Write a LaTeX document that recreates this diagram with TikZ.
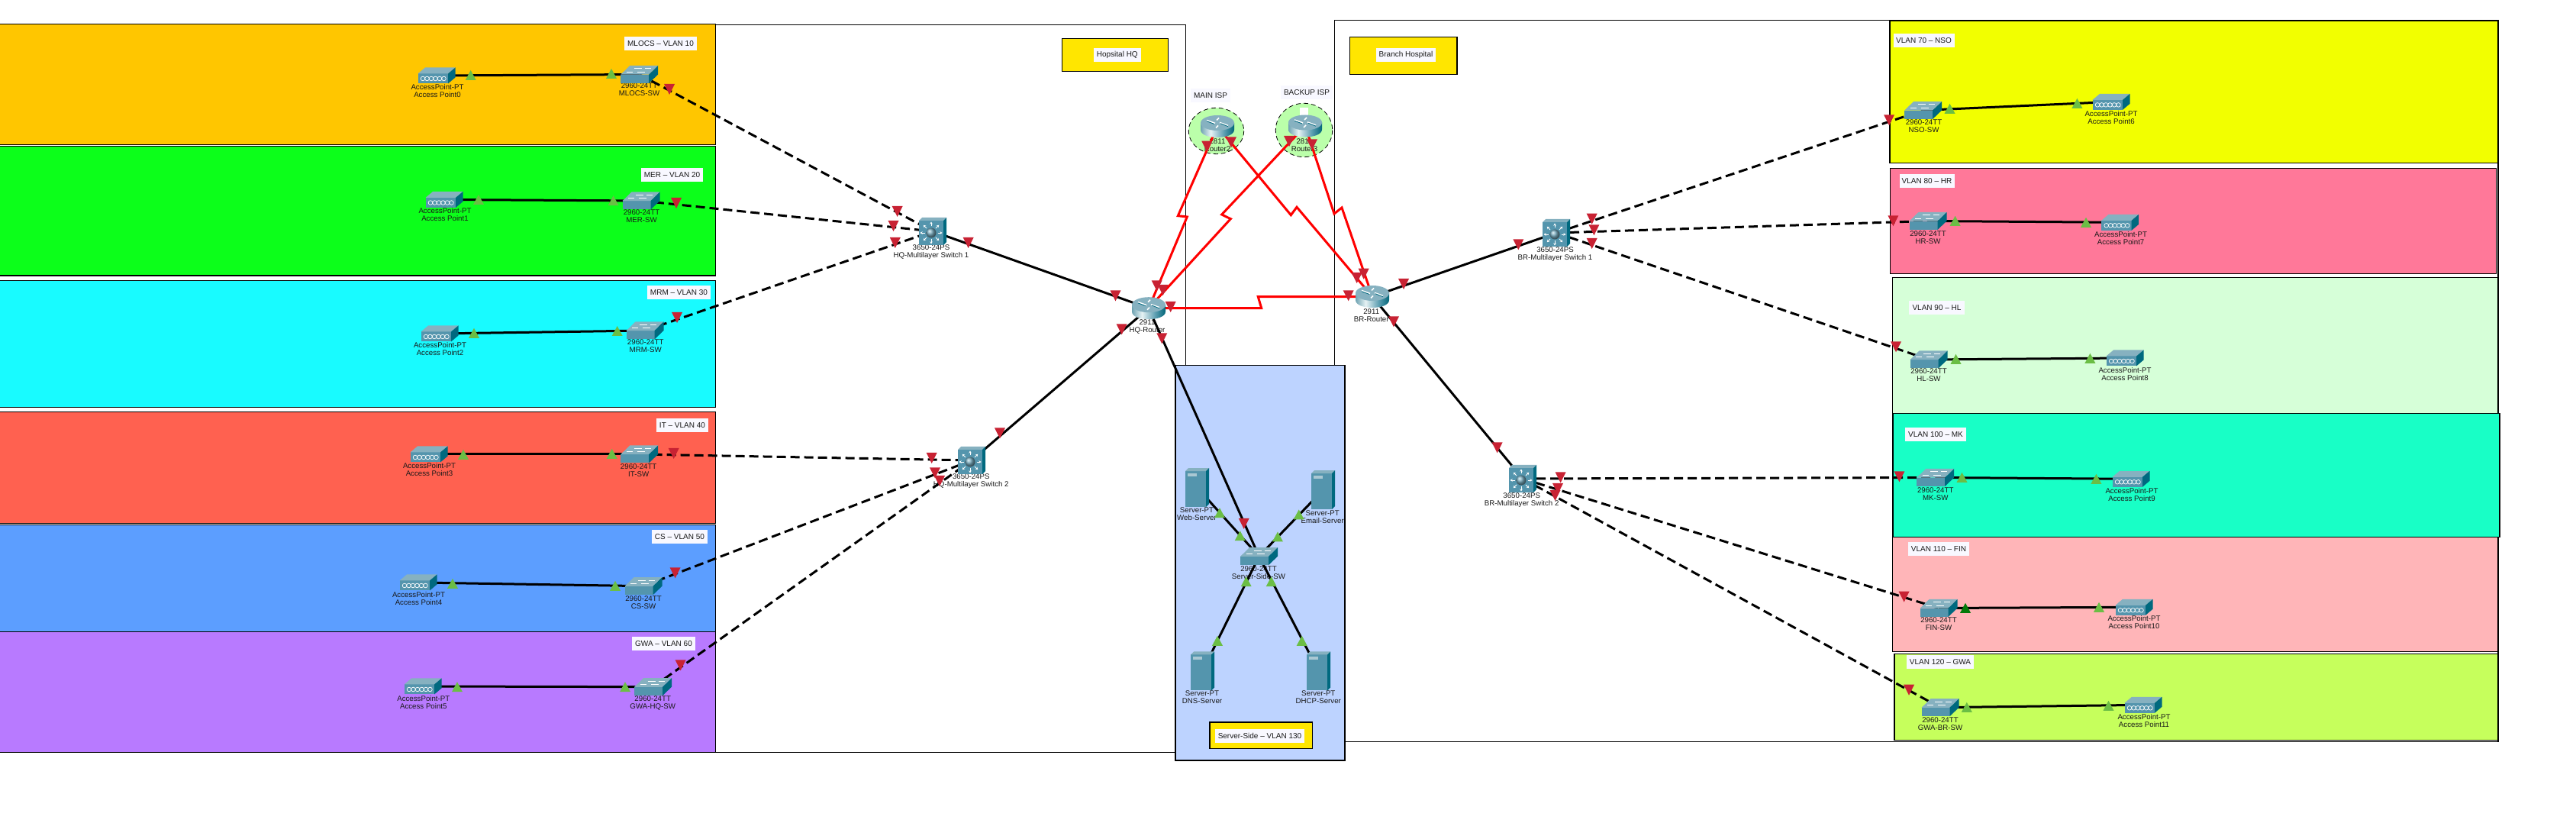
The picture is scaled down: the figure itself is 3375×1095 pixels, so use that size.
\documentclass[tikz,border=0pt]{standalone}
\usepackage{fontspec}
\usetikzlibrary{arrows.meta}
\setmainfont{Liberation Sans}
\definecolor{cOrange}{HTML}{FFC600}
\definecolor{cGreen}{HTML}{0CFF1A}
\definecolor{cCyan}{HTML}{18FBFF}
\definecolor{cRed}{HTML}{FF6150}
\definecolor{cBlue}{HTML}{5C9EFF}
\definecolor{cPurple}{HTML}{B87AFF}
\definecolor{cYellow}{HTML}{F2FF00}
\definecolor{cPink}{HTML}{FF7899}
\definecolor{cMint}{HTML}{D6FFD8}
\definecolor{cTeal}{HTML}{18FFC6}
\definecolor{cRose}{HTML}{FFB5B8}
\definecolor{cLime}{HTML}{C6FF5C}
\definecolor{cSky}{HTML}{BDD3FF}
\definecolor{cTitle}{HTML}{FFE600}
\definecolor{cTag}{HTML}{F8F8FF}
\definecolor{cIsp}{HTML}{BBFFAA}
\definecolor{icoFront}{HTML}{5495AD}
\definecolor{icoTop}{HTML}{86B1C0}
\definecolor{icoSide}{HTML}{00697F}
\definecolor{triR}{HTML}{C82233}
\definecolor{triG}{HTML}{6BBE45}
\definecolor{triD}{HTML}{047A0A}
\definecolor{rtA}{HTML}{6FA3B2}
\definecolor{rtB}{HTML}{E6F2F4}
\definecolor{rtC}{HTML}{5B9DB0}
\definecolor{rtD}{HTML}{006578}
\pgfdeclarehorizontalshading{rtrBody}{100bp}{color(0bp)=(rtA);color(25bp)=(rtA);color(40bp)=(rtB);color(60bp)=(rtC);color(75bp)=(rtD);color(100bp)=(rtD)}
\tikzset{
  zone/.style={draw=black,line width=0.55pt},
  tag/.style={fill=cTag,inner sep=0pt,minimum height=9pt,font=\fontsize{5}{6}\selectfont,text=black!90},
  devlbl/.style={inner sep=0pt,align=center,font=\fontsize{4.85}{5}\selectfont,text=black!90},
  devspot/.style={inner sep=0pt,minimum size=10pt},
  link/.style={draw=black,line width=1.5pt},
  trunk/.style={draw=black,line width=1.5pt,dash pattern=on 6pt off 3pt},
  serial/.style={draw=red,line width=1.5pt,line join=miter},
  swIcon/.pic={
    \fill[icoFront] (-24.5,0.2) rectangle (12.5,11.5);
    \fill[icoTop] (-24.5,0.2) -- (12.5,0.2) -- (24.5,-11.5) -- (-12.5,-11.5) -- cycle;
    \fill[icoSide] (12.5,0.2) -- (24.5,-11.5) -- (24.5,0) -- (12.5,11.5) -- cycle;
    \draw[white,line width=0.5pt] (-7,-7.5) -- (3,-7.5) (7,-7.5) -- (15,-7.5) (-17,-3) -- (-9,-3) (-3,-3) -- (7,-3);
  },
  apIcon/.pic={
    \fill[icoFront] (-24.5,-2.5) rectangle (15,10.5);
    \fill[icoTop] (-24.5,-2.5) -- (15,-2.5) -- (24.5,-10.5) -- (-15,-10.5) -- cycle;
    \fill[icoSide] (15,-2.5) -- (24.5,-10.5) -- (24.5,2.5) -- (15,10.5) -- cycle;
    \foreach \k in {-18,-12.5,-7,-1.5,4,9.5}
      \draw[white,line width=0.35pt] (\k,4) circle (2.8);
  },
  svIcon/.pic={
    \fill[icoFront] (-15.5,-21.5) rectangle (11.5,25.5);
    \fill[icoTop] (-15.5,-21.5) -- (11.5,-21.5) -- (15.5,-25.5) -- (-11.5,-25.5) -- cycle;
    \fill[icoSide] (11.5,-21.5) -- (15.5,-25.5) -- (15.5,21.5) -- (11.5,25.5) -- cycle;
    \fill[icoTop!70!white] (-13,-19) rectangle (-1,-15);
  },
  mlIcon/.pic={
    \fill[icoFront] (-18,-14) rectangle (14,18);
    \fill[icoTop] (-18,-14) -- (14,-14) -- (18,-18) -- (-14,-18) -- cycle;
    \fill[icoSide] (14,-14) -- (18,-18) -- (18,14) -- (14,18) -- cycle;
    \begin{scope}[shift={(-2,2)}]
      \foreach \a in {0,45,...,315}
        \draw[white,line width=0.4pt,-{Stealth[length=1.6pt,width=1.8pt]}] (\a:8.5) -- (\a:14.5);
      \shade[ball color=icoFront!80!white] (0,0) circle (6.5);
    \end{scope}
  },
  rtIcon/.pic={
    \shade[shading=rtrBody] (-22,-4.5) -- (-22,4.5) .. controls (-22,17.8) and (22,17.8) .. (22,4.5) -- (22,-4.5) -- cycle;
    \fill[icoTop] (0,-4.5) ellipse [x radius=22,y radius=10];
    \draw[white,line width=0.8pt] (-14,-8) -- (-3,-4) (14,-1) -- (3,-5) (2,-11) -- (-1,-8) (-2,2) -- (1,-1);
    \draw[icoSide,line width=0.4pt] (-14,-6.8) -- (-4,-3) (14,0.2) -- (4,-3.8);
  },
}
\newcommand\tagbox[5]{\node[tag,minimum width=#4*0.5pt] (#1) at (#2,#3) {#5};}
\newcommand\devlab[5]{\node[devlbl] (#1) at (#2,#3) {#4\\#5};}
\newcommand\triDown[3][triR]{\fill[#1,shift={(#2,#3)}] (-7,-7) -- (7,-7) -- (0,7) -- cycle;}
\newcommand\triUp[3][triG]{\fill[#1,shift={(#2,#3)}] (-7,6.5) -- (7,6.5) -- (0,-6.5) -- cycle;}
\begin{document}
\begin{tikzpicture}[x=0.5pt,y=-0.5pt]
\clip (0,0) rectangle (3375,1095);
\fill[white] (0,0) rectangle (3375,1095);
% site frames
\draw[zone,fill=white] (-10,32.3) rectangle (1553.4,985.5);
\draw[zone,fill=white] (1748.6,26.3) rectangle (3273,971.5);
% HQ VLANs
\draw[zone,fill=cOrange] (-10,31.3) rectangle (937.5,189.4);
\draw[zone,fill=cGreen] (-10,191.5) rectangle (937.5,361);
\draw[zone,fill=cCyan] (-10,367.4) rectangle (937.5,533.4);
\draw[zone,fill=cRed] (-10,539.3) rectangle (937.5,685.3);
\draw[zone,fill=cBlue] (-10,687.3) rectangle (937.5,827.3);
\draw[zone,fill=cPurple] (-10,827.3) rectangle (937.5,985.5);
% Branch VLANs
\draw[zone,fill=cYellow] (2476,27.3) rectangle (3273,213.3);
\draw[zone,fill=cPink] (2476.8,220.3) rectangle (3270.5,358.3);
\draw[zone,fill=cMint] (2479.5,363.3) rectangle (3273,541.3);
\draw[zone,fill=cTeal] (2480,541.3) rectangle (3275,703.3);
\draw[zone,fill=cRose] (2479.5,703.3) rectangle (3273,853.3);
\draw[zone,fill=cLime] (2482,856.3) rectangle (3273,969.3);
% server VLAN
\draw[zone,fill=cSky] (1540,478.3) rectangle (1762,996);
% title boxes
\draw[zone,fill=cTitle] (1391.5,50.3) rectangle (1530.4,93.3);
\draw[zone,fill=cTitle] (1768.7,48.3) rectangle (1909,97.7);
\draw[zone,fill=cTitle] (1585,946) rectangle (1719.7,980.3);
% ISP clouds
\draw[fill=cIsp,draw=black,line width=0.4pt,densely dashed] (1593.5,171.5) ellipse [x radius=36.2,y radius=30.2];
\draw[fill=cIsp,draw=black,line width=0.4pt,densely dashed] (1708.5,170.5) ellipse [x radius=37.2,y radius=35.2];
\fill[white] (1703.3,141.3) rectangle (1714,158.7);
% labels
\tagbox{tagMlocs}{865.5}{57}{95}{MLOCS – VLAN 10}
\tagbox{tagMer}{880.5}{229}{81}{MER – VLAN 20}
\tagbox{tagMrm}{889.5}{383}{83}{MRM – VLAN 30}
\tagbox{tagIt}{894}{557}{68}{IT – VLAN 40}
\tagbox{tagCs}{890.5}{703}{73}{CS – VLAN 50}
\tagbox{tagGwa}{869.5}{843}{83}{GWA – VLAN 60}
\tagbox{tagNso}{2520.5}{53}{80}{VLAN 70 – NSO}
\tagbox{tagHr}{2524.5}{237}{72}{VLAN 80 – HR}
\tagbox{tagHl}{2537.5}{403}{73}{VLAN 90 – HL}
\tagbox{tagMk}{2536}{569}{80}{VLAN 100 – MK}
\tagbox{tagFin}{2540}{719}{80}{VLAN 110 – FIN}
\tagbox{tagGwb}{2542}{867}{88}{VLAN 120 – GWA}
\tagbox{tagHq}{1463.8}{72}{62}{Hopsital HQ}
\tagbox{tagBr}{1842}{72}{78}{Branch Hospital}
\tagbox{tagSrv}{1650.5}{963.6}{117}{Server-Side – VLAN 130}
\tagbox{tagMain}{1586}{124.7}{52}{MAIN ISP}
\tagbox{tagBack}{1712}{121}{68}{BACKUP ISP}
% device captions
\devlab{lAp0}{573}{119.3}{AccessPoint-PT}{Access Point0}
\devlab{lAp1}{583}{281.5}{AccessPoint-PT}{Access Point1}
\devlab{lAp2}{576.5}{457.5}{AccessPoint-PT}{Access Point2}
\devlab{lAp3}{562.5}{615.3}{AccessPoint-PT}{Access Point3}
\devlab{lAp4}{548.5}{783.7}{AccessPoint-PT}{Access Point4}
\devlab{lAp5}{554.8}{919.7}{AccessPoint-PT}{Access Point5}
\devlab{lSw1}{837.5}{117.6}{2960-24TT}{MLOCS-SW}
\devlab{lSw2}{840.5}{283.4}{2960-24TT}{MER-SW}
\devlab{lSw3}{845.7}{453.3}{2960-24TT}{MRM-SW}
\devlab{lSw4}{836.7}{615.7}{2960-24TT}{IT-SW}
\devlab{lSw5}{843}{788.7}{2960-24TT}{CS-SW}
\devlab{lSw6}{855.2}{920.7}{2960-24TT}{GWA-HQ-SW}
\devlab{lMl1}{1220}{330.2}{3650-24PS}{HQ-Multilayer Switch 1}
\devlab{lMl2}{1272.3}{630.5}{3650-24PS}{HQ-Multilayer Switch 2}
\devlab{lMl3}{2037.5}{332.7}{3650-24PS}{BR-Multilayer Switch 1}
\devlab{lMl4}{1993.7}{654.7}{3650-24PS}{BR-Multilayer Switch 2}
\devlab{lRt2}{1595}{190.5}{2811}{Router2}
\devlab{lRt3}{1709}{189.7}{2811}{Router3}
\devlab{lHqr}{1503}{428}{2911}{HQ-Router}
\devlab{lBrr}{1796.7}{413}{2911}{BR-Router}
\devlab{lWeb}{1568}{673.6}{Server-PT}{Web-Server}
\devlab{lMail}{1732.7}{676.7}{Server-PT}{Email-Server}
\devlab{lDns}{1575}{913.6}{Server-PT}{DNS-Server}
\devlab{lDhcp}{1727.3}{913.6}{Server-PT}{DHCP-Server}
\devlab{lSrvSw}{1649}{749.8}{2960-24TT}{Server-Side-SW}
\devlab{lSw7}{2520.5}{165.5}{2960-24TT}{NSO-SW}
\devlab{lSw8}{2526}{310.7}{2960-24TT}{HR-SW}
\devlab{lSw9}{2527}{491.3}{2960-24TT}{HL-SW}
\devlab{lSw10}{2535.7}{646.7}{2960-24TT}{MK-SW}
\devlab{lSw11}{2540}{817.3}{2960-24TT}{FIN-SW}
\devlab{lSw12}{2542}{947.7}{2960-24TT}{GWA-BR-SW}
\devlab{lAp6}{2766}{153.7}{AccessPoint-PT}{Access Point6}
\devlab{lAp7}{2778.6}{311.7}{AccessPoint-PT}{Access Point7}
\devlab{lAp8}{2784}{489.7}{AccessPoint-PT}{Access Point8}
\devlab{lAp9}{2793}{647.7}{AccessPoint-PT}{Access Point9}
\devlab{lAp10}{2796}{815.3}{AccessPoint-PT}{Access Point10}
\devlab{lAp11}{2809}{943.7}{AccessPoint-PT}{Access Point11}
% device anchors
\node[devspot] (ap0) at (572,99) {};
\node[devspot] (ap1) at (582,261.5) {};
\node[devspot] (ap2) at (576,437) {};
\node[devspot] (ap3) at (562,595) {};
\node[devspot] (ap4) at (548,763) {};
\node[devspot] (ap5) at (554,899) {};
\node[devspot] (sw1) at (837.7,97.5) {};
\node[devspot] (sw2) at (840,263) {};
\node[devspot] (sw3) at (845,433) {};
\node[devspot] (sw4) at (837.7,595) {};
\node[devspot] (sw5) at (843,767.7) {};
\node[devspot] (sw6) at (855.5,899.7) {};
\node[devspot] (ml1) at (1222,303) {};
\node[devspot] (ml2) at (1273,603) {};
\node[devspot] (ml3) at (2039,305) {};
\node[devspot] (ml4) at (1995,627) {};
\node[devspot] (rt2) at (1595,165.5) {};
\node[devspot] (rt3) at (1710,165) {};
\node[devspot] (hqr) at (1505,403.7) {};
\node[devspot] (brr) at (1798,388.5) {};
\node[devspot] (web) at (1568.5,638.6) {};
\node[devspot] (mail) at (1733.5,641.7) {};
\node[devspot] (dns) at (1575.5,879) {};
\node[devspot] (dhcp) at (1727.5,879) {};
\node[devspot] (srvsw) at (1649.5,728.7) {};
\node[devspot] (sw7) at (2519.6,144.5) {};
\node[devspot] (sw8) at (2526,289.5) {};
\node[devspot] (sw9) at (2527,471) {};
\node[devspot] (sw10) at (2535.7,625.5) {};
\node[devspot] (sw11) at (2540,796.5) {};
\node[devspot] (sw12) at (2542,926.7) {};
\node[devspot] (ap6) at (2766,133.4) {};
\node[devspot] (ap7) at (2777.7,291.3) {};
\node[devspot] (ap8) at (2784,469) {};
\node[devspot] (ap9) at (2792,627.3) {};
\node[devspot] (ap10) at (2796,795.3) {};
\node[devspot] (ap11) at (2808,923.3) {};
% access links
\draw[link] (ap0.center) -- (sw1.center);
\draw[link] (ap1.center) -- (sw2.center);
\draw[link] (ap2.center) -- (sw3.center);
\draw[link] (ap3.center) -- (sw4.center);
\draw[link] (ap4.center) -- (sw5.center);
\draw[link] (ap5.center) -- (sw6.center);
\draw[link] (sw7.center) -- (ap6.center);
\draw[link] (sw8.center) -- (ap7.center);
\draw[link] (sw9.center) -- (ap8.center);
\draw[link] (sw10.center) -- (ap9.center);
\draw[link] (sw11.center) -- (ap10.center);
\draw[link] (sw12.center) -- (ap11.center);
% trunk links
\draw[trunk] (sw1.center) -- (ml1.center);
\draw[trunk] (sw2.center) -- (ml1.center);
\draw[trunk] (sw3.center) -- (ml1.center);
\draw[trunk] (sw4.center) -- (ml2.center);
\draw[trunk] (sw5.center) -- (ml2.center);
\draw[trunk] (sw6.center) -- (ml2.center);
\draw[trunk] (ml3.center) -- (sw7.center);
\draw[trunk] (ml3.center) -- (sw8.center);
\draw[trunk] (ml3.center) -- (sw9.center);
\draw[trunk] (ml4.center) -- (sw10.center);
\draw[trunk] (ml4.center) -- (sw11.center);
\draw[trunk] (ml4.center) -- (sw12.center);
% router and server links
\draw[link] (ml1.center) -- (hqr.center);
\draw[link] (ml2.center) -- (hqr.center);
\draw[link] (hqr.center) -- (srvsw.center);
\draw[link] (brr.center) -- (ml3.center);
\draw[link] (brr.center) -- (ml4.center);
\draw[link] (web.center) -- (srvsw.center);
\draw[link] (mail.center) -- (srvsw.center);
\draw[link] (dns.center) -- (srvsw.center);
\draw[link] (dhcp.center) -- (srvsw.center);
% serial links
\draw[serial] (hqr.center) -- (1555.3,284) -- (1543.3,282.7) -- (rt2.center);
\draw[serial] (hqr.center) -- (1612.3,286.7) -- (1600.7,281) -- (rt3.center);
\draw[serial] (brr.center) -- (1699,271.3) -- (1691.3,281.7) -- (rt2.center);
\draw[serial] (brr.center) -- (1758,272) -- (1748,280) -- (rt3.center);
\draw[serial] (hqr.center) -- (1652.7,403.7) -- (1648.3,388.7) -- (brr.center);
% icons
\pic at (ap0) {apIcon};
\pic at (ap1) {apIcon};
\pic at (ap2) {apIcon};
\pic at (ap3) {apIcon};
\pic at (ap4) {apIcon};
\pic at (ap5) {apIcon};
\pic at (ap6) {apIcon};
\pic at (ap7) {apIcon};
\pic at (ap8) {apIcon};
\pic at (ap9) {apIcon};
\pic at (ap10) {apIcon};
\pic at (ap11) {apIcon};
\pic at (sw1) {swIcon};
\pic at (sw2) {swIcon};
\pic at (sw3) {swIcon};
\pic at (sw4) {swIcon};
\pic at (sw5) {swIcon};
\pic at (sw6) {swIcon};
\pic at (sw7) {swIcon};
\pic at (sw8) {swIcon};
\pic at (sw9) {swIcon};
\pic at (sw10) {swIcon};
\pic at (sw11) {swIcon};
\pic at (sw12) {swIcon};
\pic at (srvsw) {swIcon};
\pic at (ml1) {mlIcon};
\pic at (ml2) {mlIcon};
\pic at (ml3) {mlIcon};
\pic at (ml4) {mlIcon};
\pic at (rt2) {rtIcon};
\pic at (rt3) {rtIcon};
\pic at (hqr) {rtIcon};
\pic at (brr) {rtIcon};
\pic at (web) {svIcon};
\pic at (mail) {svIcon};
\pic at (dns) {svIcon};
\pic at (dhcp) {svIcon};
% link lights, green
\triUp{616.7}{98.5} \triUp{801}{96.4}
\triUp{627}{261.4} \triUp{803.6}{262.7}
\triUp{621}{436.3} \triUp{808.7}{433.5}
\triUp{607}{595.3} \triUp{801.7}{594.3}
\triUp{593}{764.3} \triUp{806}{767.3}
\triUp{599}{899.7} \triUp{819}{899.7}
\triUp{2554.5}{142.3} \triUp{2721.4}{135.3}
\triUp{2561.6}{289.3} \triUp{2733}{291.3}
\triUp{2562.5}{470.3} \triUp{2738.4}{469.3}
\triUp{2570.5}{625.3} \triUp{2746.4}{627.3}
\triUp[triD]{2575}{796.3} \triUp{2750}{795.3}
\triUp{2576.8}{926.3} \triUp{2762.5}{924.3}
\triUp{1598}{671.7} \triUp{1624.7}{701.7}
\triUp{1701.7}{674} \triUp{1674}{703}
\triUp{1632.7}{761.7} \triUp{1665.7}{761.7}
\triUp{1595}{839.3} \triUp{1705.7}{839.3}
% link lights, red
\triDown{877}{117} \triDown{886}{266} \triDown{887}{416}
\triDown{882.7}{594} \triDown{884.6}{750.3} \triDown{891.6}{871.3}
\triDown{1175.7}{277} \triDown{1170.5}{296} \triDown{1172.8}{318} \triDown{1268.7}{318}
\triDown{1220.7}{600} \triDown{1225}{619.3} \triDown{1231}{630} \triDown{1310}{567.3}
\triDown{1461.5}{387.3} \triDown{1469.6}{431.3}
\triDown{1515.7}{374.3} \triDown{1523.7}{380} \triDown{1533.7}{402} \triDown{1522.3}{443.3}
\triDown{1581.3}{191.7} \triDown{1613}{186.3} \triDown{1689}{185} \triDown{1719}{189.3}
\triDown{1777.7}{364} \triDown{1786.7}{358.7} \triDown{1766.7}{387.3}
\triDown{1839}{372} \triDown{1826}{421.3}
\triDown{1629.7}{685.9}
\triDown{1989.3}{320.3} \triDown{2085.7}{286.7} \triDown{2088.4}{301.3} \triDown{2085.7}{319}
\triDown{2475}{157.3} \triDown{2480.4}{289.3} \triDown{2484}{454.3}
\triDown{1961.6}{586.3} \triDown{2044.6}{625.3} \triDown{2041}{640} \triDown{2037.5}{649}
\triDown{2488.4}{624.3} \triDown{2494.6}{781.7} \triDown{2501}{903.7}
\end{tikzpicture}
\end{document}
